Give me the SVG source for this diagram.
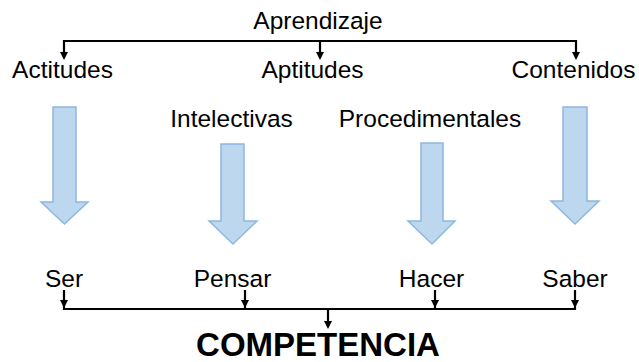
<svg xmlns="http://www.w3.org/2000/svg" width="639" height="362" viewBox="0 0 639 362">
<style>
text{font-family:"Liberation Sans",Arial,sans-serif;font-size:24.5px;fill:#000;text-anchor:middle}
.big{font-weight:bold;font-size:33px}
.blk{fill:#BDD7EE;stroke:#8FB7E0;stroke-width:1.5}
.ln{stroke:#000;stroke-width:2.2;fill:none}
.hd{fill:#000}
</style>
<rect width="639" height="362" fill="#fff"/>
<g id="connectors">
<path class="ln" d="M64,53 V41 H576 V53"/>
<path class="ln" d="M320,41 V53"/>
<path class="hd" d="M60,52 L68,52 L64,60 Z M316,52 L324,52 L320,60 Z M572,52 L580,52 L576,60 Z"/>
<path class="ln" d="M64,290 V309 H575 V290"/>
<path class="ln" d="M245,290 V309 M435,290 V309"/>
<path class="hd" d="M60,300 L68,300 L64,308 Z M241,300 L249,300 L245,308 Z M431,300 L439,300 L435,308 Z M571,300 L579,300 L575,308 Z"/>
<path class="ln" d="M328,309 V322"/>
<path class="hd" d="M324,321 L332,321 L328,329 Z"/>
</g>
<g id="aprendizaje"><text x="318" y="29">Aprendizaje</text></g>
<g id="actitudes"><text x="62.5" y="78">Actitudes</text></g>
<g id="aptitudes"><text x="312.5" y="78">Aptitudes</text></g>
<g id="contenidos"><text x="573.5" y="78">Contenidos</text></g>
<g id="intelectivas"><text x="231.5" y="127">Intelectivas</text></g>
<g id="procedimentales"><text x="430" y="127">Procedimentales</text></g>
<g id="arrow1"><path class="blk" d="M53,107 H76 V202 H88 L64.5,224 L41,202 H53 Z"/></g>
<g id="arrow2"><path class="blk" d="M221,144 H244 V221 H257 L233,244 L209,221 H221 Z"/></g>
<g id="arrow3"><path class="blk" d="M421,143 H443 V221 H455 L432,244 L408,221 H421 Z"/></g>
<g id="arrow4"><path class="blk" d="M563,107 H587 V201 H599 L575,224 L551,201 H563 Z"/></g>
<g id="ser"><text x="64" y="287">Ser</text></g>
<g id="pensar"><text x="232.5" y="287">Pensar</text></g>
<g id="hacer"><text x="431.5" y="287">Hacer</text></g>
<g id="saber"><text x="575" y="287">Saber</text></g>
<g id="competencia"><text class="big" x="318" y="356">COMPETENCIA</text></g>
</svg>
